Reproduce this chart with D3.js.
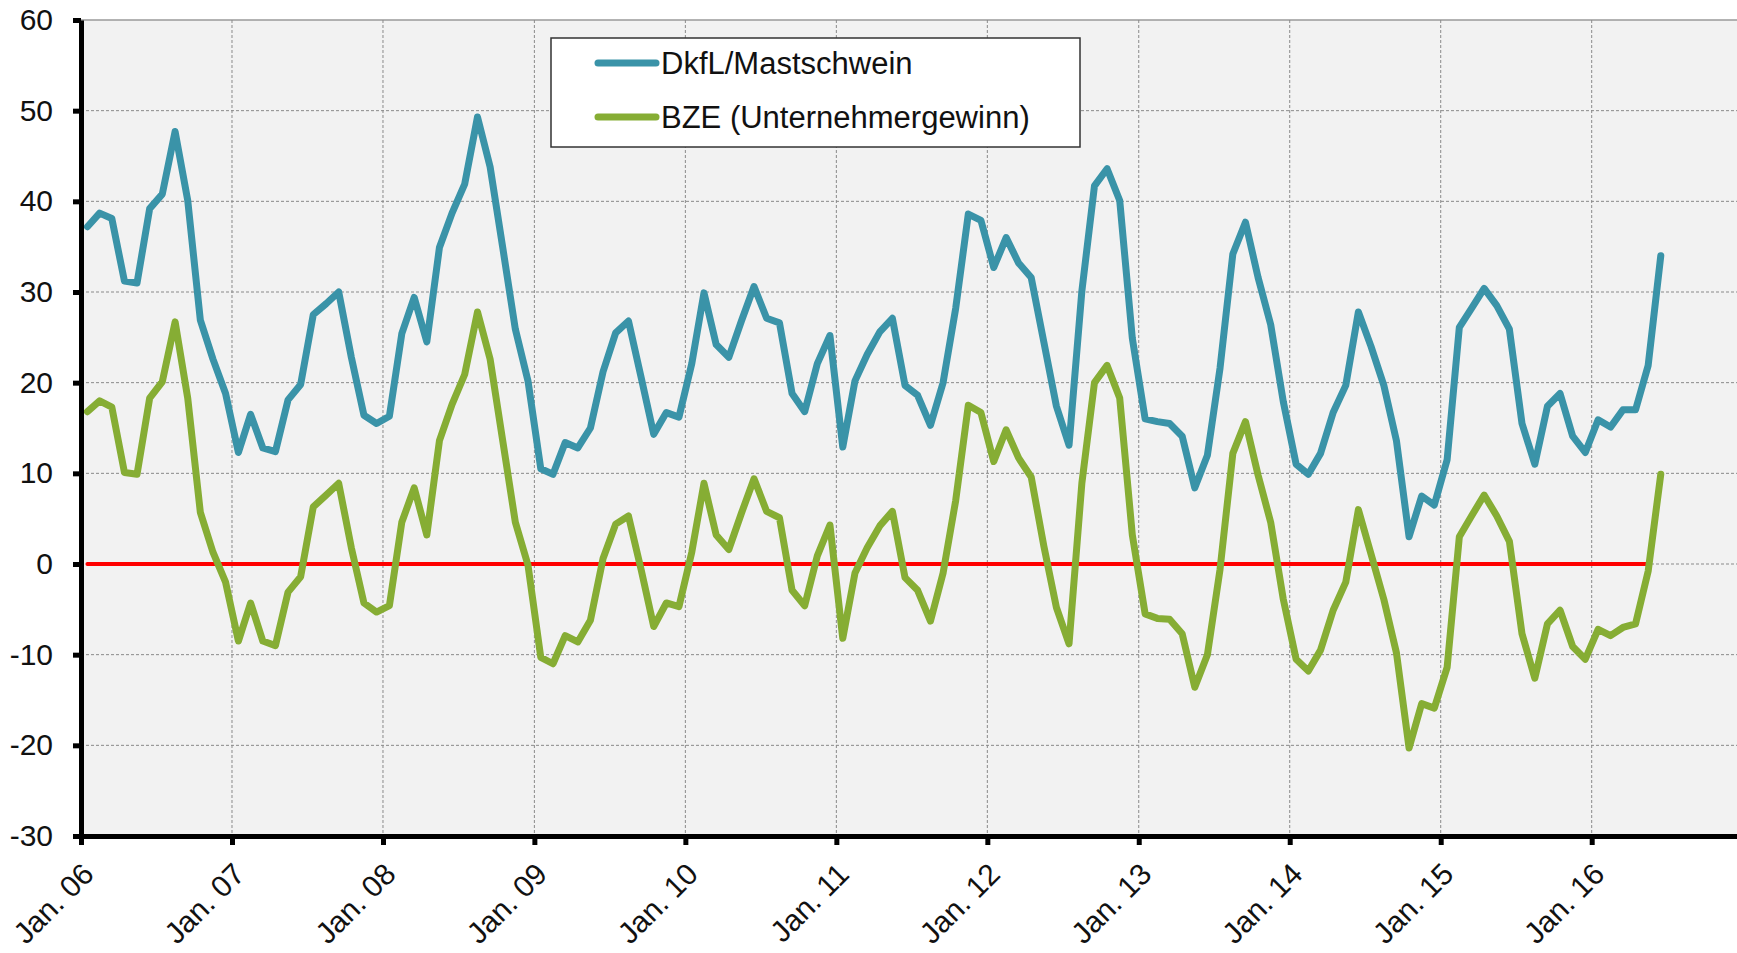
<!DOCTYPE html>
<html>
<head>
<meta charset="utf-8">
<script src="https://cdn.jsdelivr.net/npm/d3@7.9.0/dist/d3.min.js"></script>
<style>
    body { margin: 0; background: #fff; }
    svg { display: block; font-family: Arial, "Liberation Sans", sans-serif; }
</style>
</head>
<body>
<svg id="chart" width="1737" height="953"></svg>
<script>
// Monthly values, Jan. 2006 .. Jun. 2016
const startYear = 2006;

// DkfL/Mastschwein
const dkfl = [
    37.2, 38.7, 38.1, 31.2, 31.0, 39.2, 40.8, 47.7, 40.1, 26.9, 22.6, 18.8,
    12.3, 16.5, 12.8, 12.4, 18.1, 19.8, 27.5, 28.7, 30.0, 22.8, 16.4, 15.5,
    16.3, 25.4, 29.4, 24.5, 34.9, 38.7, 41.9, 49.3, 43.8, 34.9, 25.9, 20.2,
    10.5, 9.9, 13.4, 12.8, 15.0, 21.2, 25.5, 26.8, 20.6, 14.3, 16.7, 16.2,
    22.1, 29.9, 24.2, 22.8, 26.8, 30.6, 27.1, 26.6, 18.8, 16.8, 22.1, 25.2,
    12.9, 20.2, 23.1, 25.6, 27.1, 19.7, 18.6, 15.3, 20.0, 28.2, 38.6, 37.9,
    32.7, 36.0, 33.2, 31.6, 24.5, 17.4, 13.1, 30.1, 41.7, 43.6, 40.1, 24.9,
    16.0, 15.7, 15.5, 14.1, 8.4, 12.0, 21.6, 34.2, 37.7, 31.6, 26.4, 17.9,
    11.0, 9.9, 12.2, 16.7, 19.7, 27.8, 24.0, 19.7, 13.6, 3.0, 7.5, 6.5,
    11.5, 26.1, 28.2, 30.4, 28.5, 25.9, 15.5, 11.0, 17.4, 18.8, 14.1, 12.3,
    15.9, 15.1, 17.0, 17.0, 21.9, 34.0
];

// BZE (Unternehmergewinn)
const bze = [
    16.8, 18.0, 17.3, 10.1, 9.9, 18.3, 20.1, 26.7, 18.3, 5.7, 1.3, -2.0,
    -8.5, -4.3, -8.5, -9.0, -3.1, -1.4, 6.3, 7.6, 8.9, 1.8, -4.3, -5.3,
    -4.6, 4.6, 8.4, 3.2, 13.6, 17.6, 20.9, 27.8, 22.6, 13.6, 4.6, -0.1,
    -10.3, -11.0, -7.9, -8.6, -6.2, 0.6, 4.4, 5.3, -0.6, -6.9, -4.3, -4.7,
    1.3, 8.9, 3.2, 1.6, 5.6, 9.4, 5.8, 5.1, -2.9, -4.6, 0.9, 4.3,
    -8.2, -1.0, 1.8, 4.2, 5.8, -1.5, -2.9, -6.3, -1.0, 7.0, 17.5, 16.7,
    11.3, 14.8, 11.7, 9.6, 2.0, -4.8, -8.8, 8.9, 20.0, 21.9, 18.3, 3.2,
    -5.5, -6.0, -6.1, -7.7, -13.6, -10.0, -0.6, 12.2, 15.7, 9.8, 4.6, -3.9,
    -10.5, -11.8, -9.5, -5.1, -2.0, 6.0, 1.1, -3.9, -9.8, -20.3, -15.4, -15.9,
    -11.4, 3.0, 5.3, 7.6, 5.3, 2.5, -7.7, -12.6, -6.6, -5.1, -9.1, -10.5,
    -7.2, -7.9, -7.0, -6.6, -0.8, 9.9
];

// red zero line runs over the first 125 months
const zeroLineMonths = 125;

const seriesNames = ['DkfL/Mastschwein', 'BZE (Unternehmergewinn)'];
const seriesColors = ['#3a93a8', '#86ad34'];

const yTicks = [-30, -20, -10, 0, 10, 20, 30, 40, 50, 60];
const tickLabels = ['Jan. 06', 'Jan. 07', 'Jan. 08', 'Jan. 09', 'Jan. 10', 'Jan. 11',
                    'Jan. 12', 'Jan. 13', 'Jan. 14', 'Jan. 15', 'Jan. 16'];

// Layout
const width = 1737, height = 953;
const plotLeft = 81, plotTop = 20, plotBottom = 836;
const yearWidth = 151.1;

const svg = d3.select('#chart');

const x = d3.scaleTime()
    .domain([new Date(startYear, 0, 1), new Date(startYear + 11, 0, 1)])
    .range([plotLeft, plotLeft + 11 * yearWidth]);

const y = d3.scaleLinear()
    .domain([-30, 60])
    .range([plotBottom, plotTop]);

// point in the middle of month i
function monthMid(i) {
    let a = new Date(startYear, i, 1);
    let b = new Date(startYear, i + 1, 1);
    return new Date((a.getTime() + b.getTime()) / 2);
}

const yearDates = tickLabels.map((_, i) => new Date(startYear + i, 0, 1));

// Plot area
svg.append('rect')
    .attr('x', plotLeft).attr('y', plotTop)
    .attr('width', width - plotLeft).attr('height', plotBottom - plotTop)
    .attr('fill', '#f2f2f2');

svg.append('line')
    .attr('x1', plotLeft).attr('x2', width)
    .attr('y1', plotTop).attr('y2', plotTop)
    .attr('stroke', '#9a9a9a').attr('stroke-width', 1.5);

// Gridlines
svg.append('g')
    .selectAll('line')
    .data(yTicks.filter((d) => d > -30 && d < 60))
    .join('line')
    .attr('x1', plotLeft).attr('x2', width)
    .attr('y1', (d) => y(d)).attr('y2', (d) => y(d))
    .attr('stroke', '#8a8a8a').attr('stroke-width', 1)
    .attr('stroke-dasharray', '3,2');

svg.append('g')
    .selectAll('line')
    .data(yearDates.slice(1))
    .join('line')
    .attr('x1', (d) => x(d)).attr('x2', (d) => x(d))
    .attr('y1', plotTop).attr('y2', plotBottom)
    .attr('stroke', '#8a8a8a').attr('stroke-width', 1)
    .attr('stroke-dasharray', '3,2');

// Zero line
const zeroData = d3.range(zeroLineMonths);
svg.append('path')
    .datum(zeroData)
    .attr('d', d3.line().x((i) => x(monthMid(i))).y(() => y(0)))
    .attr('fill', 'none')
    .attr('stroke', '#ff0000')
    .attr('stroke-width', 4)
    .attr('stroke-linecap', 'round');

// Series lines
const line = d3.line()
    .x((d, i) => x(monthMid(i)))
    .y((d) => y(d));

[dkfl, bze].forEach((values, idx) => {
    svg.append('path')
        .datum(values)
        .attr('d', line)
        .attr('fill', 'none')
        .attr('stroke', seriesColors[idx])
        .attr('stroke-width', 7)
        .attr('stroke-linejoin', 'round')
        .attr('stroke-linecap', 'round');
});

// Y axis (plain hyphen for negatives, like the original)
const yAxis = svg.append('g')
    .attr('transform', `translate(${plotLeft},0)`)
    .call(d3.axisLeft(y).tickValues(yTicks).tickSize(8).tickSizeOuter(0).tickPadding(20)
        .tickFormat((d) => String(d)));
yAxis.select('.domain').attr('stroke', '#000').attr('stroke-width', 5);
yAxis.selectAll('.tick line').attr('stroke', '#000').attr('stroke-width', 5);
yAxis.selectAll('.tick text')
    .attr('font-size', 30)
    .attr('font-family', 'Arial, "Liberation Sans", sans-serif')
    .attr('fill', '#111');

// X axis
const xAxis = svg.append('g')
    .attr('transform', `translate(0,${plotBottom})`)
    .call(d3.axisBottom(x).tickValues(yearDates).tickSize(9).tickSizeOuter(0)
        .tickFormat((d, i) => tickLabels[i]));
xAxis.select('.domain').attr('stroke', '#000').attr('stroke-width', 5);
xAxis.selectAll('.tick line').attr('stroke', '#000').attr('stroke-width', 5);
xAxis.selectAll('.tick text')
    .attr('font-size', 30)
    .attr('font-family', 'Arial, "Liberation Sans", sans-serif')
    .attr('fill', '#111')
    .attr('text-anchor', 'end')
    .attr('x', 0).attr('y', 0).attr('dy', 0)
    .attr('transform', 'translate(14,40) rotate(-45)');

// Legend
const legend = svg.append('g').attr('transform', 'translate(551,38)');
legend.append('rect')
    .attr('width', 529).attr('height', 109)
    .attr('fill', '#fff')
    .attr('stroke', '#333').attr('stroke-width', 1.5);

seriesNames.forEach((name, idx) => {
    let row = legend.append('g').attr('transform', `translate(0,${25 + idx * 54})`);
    row.append('line')
        .attr('x1', 47).attr('x2', 105)
        .attr('stroke', seriesColors[idx])
        .attr('stroke-width', 7)
        .attr('stroke-linecap', 'round');
    row.append('text')
        .attr('x', 110).attr('dy', '0.35em')
        .attr('font-size', 31)
        .attr('fill', '#111')
        .text(name);
});
</script>
</body>
</html>
